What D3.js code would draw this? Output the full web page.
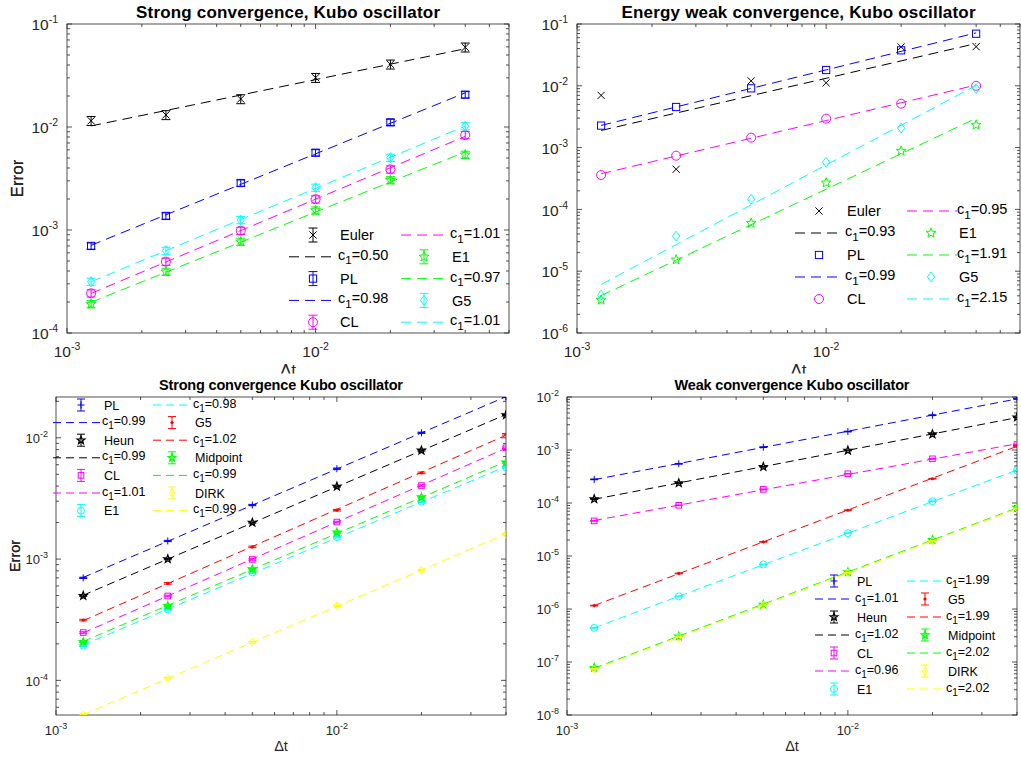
<!DOCTYPE html>
<html>
<head>
<meta charset="utf-8">
<script src="https://cdn.jsdelivr.net/npm/d3@7"></script>
<style>
    body { margin: 0; background: #fff; }
    svg { font-family: "Liberation Sans", Arial, Helvetica, sans-serif; }
</style>
</head>
<body>
<div id="chart"></div>
<script>

// step sizes (x values, same for every panel)
var dt = [0.00125, 0.0025, 0.005, 0.01, 0.02, 0.04];

// top left: strong convergence
var strongNames  = ["Euler", "PL", "CL", "E1", "G5"];
var strongEuler  = [0.0115, 0.0131, 0.0187, 0.0301, 0.0406, 0.0594];
var strongPL     = [7.0e-4, 1.37e-3, 2.86e-3, 5.63e-3, 0.0111, 0.0206];
var strongCL     = [2.43e-4, 4.93e-4, 9.84e-4, 1.99e-3, 3.88e-3, 8.35e-3];
var strongE1     = [1.91e-4, 3.94e-4, 7.71e-4, 1.55e-3, 3.05e-3, 5.38e-3];
var strongG5     = [3.15e-4, 6.3e-4, 1.25e-3, 2.58e-3, 5.04e-3, 0.0102];
var strongSlopes = ["0.50", "0.98", "1.01", "0.97", "1.01"];
var strongErr    = [0.10, 0.07, 0.08, 0.08, 0.08];

// top right: energy weak convergence
var energyNames  = ["Euler", "PL", "CL", "E1", "G5"];
var energyEuler  = [7.0e-3, 4.46e-4, 0.012, 0.0112, 0.0425, 0.043];
var energyPL     = [2.27e-3, 4.54e-3, 9.1e-3, 0.018, 0.0375, 0.0697];
var energyCL     = [3.6e-4, 7.4e-4, 1.45e-3, 2.94e-3, 5.14e-3, 0.01];
var energyE1     = [3.42e-6, 1.53e-5, 6.0e-5, 2.7e-4, 8.8e-4, 2.32e-3];
var energyG5     = [4.1e-6, 3.7e-5, 1.46e-4, 5.8e-4, 2.07e-3, 8.97e-3];
var energySlopes = ["0.93", "0.99", "0.95", "1.91", "2.15"];

// bottom left: strong convergence, second set of schemes
var strong2Names  = ["PL", "Heun", "CL", "E1", "G5", "Midpoint", "DIRK"];
var strong2PL     = [7.0e-4, 1.41e-3, 2.79e-3, 5.56e-3, 0.011, 0.0217];
var strong2Heun   = [4.99e-4, 1.0e-3, 2.0e-3, 3.97e-3, 7.87e-3, 0.0154];
var strong2CL     = [2.48e-4, 4.96e-4, 9.93e-4, 2.02e-3, 4.04e-3, 8.28e-3];
var strong2E1     = [1.93e-4, 3.85e-4, 7.76e-4, 1.52e-3, 2.97e-3, 5.7e-3];
var strong2G5     = [3.14e-4, 6.3e-4, 1.26e-3, 2.53e-3, 5.14e-3, 0.0107];
var strong2Mid    = [2.08e-4, 4.12e-4, 8.26e-4, 1.66e-3, 3.24e-3, 6.27e-3];
var strong2DIRK   = [5.18e-5, 1.04e-4, 2.06e-4, 4.12e-4, 8.1e-4, 1.61e-3];
var strong2Slopes = ["0.99", "0.99", "1.01", "0.98", "1.02", "0.99", "0.99"];
var strong2Err    = [0.012, 0.012, 0.015, 0.015, 0.015, 0.015, 0.015];

// bottom right: weak convergence
var weakNames  = ["PL", "Heun", "CL", "E1", "G5", "Midpoint", "DIRK"];
var weakPL     = [2.79e-4, 5.5e-4, 1.13e-3, 2.23e-3, 4.53e-3, 9.3e-3];
var weakHeun   = [1.19e-4, 2.38e-4, 4.83e-4, 9.8e-4, 1.99e-3, 4.15e-3];
var weakCL     = [4.59e-5, 9.05e-5, 1.81e-4, 3.56e-4, 6.82e-4, 1.27e-3];
var weakE1     = [4.4e-7, 1.73e-6, 6.92e-6, 2.7e-5, 1.08e-4, 4.12e-4];
var weakG5     = [1.16e-6, 4.69e-6, 1.85e-5, 7.3e-5, 2.87e-4, 1.2e-3];
var weakMid    = [7.8e-8, 3.06e-7, 1.21e-6, 4.97e-6, 2.02e-5, 8.17e-5];
var weakDIRK   = [7.4e-8, 2.95e-7, 1.17e-6, 4.8e-6, 1.93e-5, 7.9e-5];
var weakSlopes = ["1.01", "1.02", "0.96", "1.99", "1.99", "2.02", "2.02"];
var weakErr    = [0.015, 0.015, 0.015, 0.015, 0.015, 0.015, 0.015];


// matlab colours / markers
var topStyle = {
    "Euler": {color: "#000000", marker: "x"},
    "PL":    {color: "#0000ff", marker: "s"},
    "CL":    {color: "#ff00ff", marker: "o"},
    "E1":    {color: "#00ff00", marker: "p"},
    "G5":    {color: "#00ffff", marker: "d"}
};
var bottomStyle = {
    "PL":       {color: "#0000ff", marker: "+"},
    "Heun":     {color: "#000000", marker: "p"},
    "CL":       {color: "#ff00ff", marker: "s"},
    "E1":       {color: "#00ffff", marker: "o"},
    "G5":       {color: "#ff0000", marker: "."},
    "Midpoint": {color: "#00ff00", marker: "p"},
    "DIRK":     {color: "#ffff00", marker: "d"}
};


var svg = d3.select("#chart").append("svg")
    .attr("width", 1021)
    .attr("height", 757);

// top row x labels get cut by the lower axes
svg.append("defs").append("clipPath")
    .attr("id", "topclip")
    .append("rect")
    .attr("x", 0).attr("y", 0)
    .attr("width", 1021).attr("height", 373.5);


ConvPlot = function(_cfg, _series) {
    this.cfg = _cfg;
    this.series = _series;
    this.initVis();
};

ConvPlot.prototype.initVis = function() {
    var vis = this;
    var c = vis.cfg;

    vis.x = d3.scaleLog().domain(c.xDomain).range([c.left, c.right]);
    vis.y = d3.scaleLog().domain(c.yDomain).range([c.bottom, c.top]);

    vis.g = svg.append("g");

    vis.g.append("clipPath")
        .attr("id", "clip" + c.id)
        .append("rect")
        .attr("x", c.left).attr("y", c.top)
        .attr("width", c.right - c.left)
        .attr("height", c.bottom - c.top);

    vis.drawAxes();
    vis.updateVis();
    vis.drawLegend();
};

ConvPlot.prototype.logTicks = function(domain) {
    var majors = [], minors = [];
    var lo = Math.floor(Math.log10(domain[0]) - 1e-9),
        hi = Math.ceil(Math.log10(domain[1]) + 1e-9);
    for (var e = lo; e <= hi; e++) {
        for (var k = 1; k < 10; k++) {
            var v = +(k + "e" + e);
            if (v < domain[0] * (1 - 1e-9) || v > domain[1] * (1 + 1e-9)) continue;
            if (k == 1) majors.push(e);
            else minors.push(v);
        }
    }
    return {majors: majors, minors: minors};
};

ConvPlot.prototype.drawAxes = function() {
    var vis = this;
    var c = vis.cfg;
    var axisColor = "#262626";

    var ax = vis.g.append("g")
        .attr("stroke", axisColor)
        .attr("stroke-width", 0.8)
        .attr("fill", "none");

    var xt = vis.logTicks(c.xDomain),
        yt = vis.logTicks(c.yDomain);

    var d = "";
    xt.majors.forEach(function(e) {
        var px = vis.x(+("1e" + e));
        d += "M" + px + "," + c.bottom + "v" + (-c.tickLen) + "M" + px + "," + c.top + "v" + c.tickLen;
    });
    xt.minors.forEach(function(v) {
        var px = vis.x(v);
        d += "M" + px + "," + c.bottom + "v" + (-c.minorLen) + "M" + px + "," + c.top + "v" + c.minorLen;
    });
    yt.majors.forEach(function(e) {
        var py = vis.y(+("1e" + e));
        d += "M" + c.left + "," + py + "h" + c.tickLen + "M" + c.right + "," + py + "h" + (-c.tickLen);
    });
    yt.minors.forEach(function(v) {
        var py = vis.y(v);
        d += "M" + c.left + "," + py + "h" + c.minorLen + "M" + c.right + "," + py + "h" + (-c.minorLen);
    });
    ax.append("path").attr("d", d);

    ax.append("rect")
        .attr("x", c.left).attr("y", c.top)
        .attr("width", c.right - c.left)
        .attr("height", c.bottom - c.top);

    // tick labels 10^n
    xt.majors.forEach(function(e) {
        var t = vis.g.append("text")
            .attr("x", vis.x(+("1e" + e)))
            .attr("y", c.bottom + c.xLabelGap)
            .attr("text-anchor", "middle")
            .attr("fill", axisColor)
            .style("font-size", c.tickFont + "px");
        t.append("tspan").text("10");
        t.append("tspan").attr("dy", -c.tickFont * 0.45).style("font-size", c.expFont + "px").text(e);
    });
    yt.majors.forEach(function(e) {
        var t = vis.g.append("text")
            .attr("x", c.left - c.yLabelGap)
            .attr("y", vis.y(+("1e" + e)) + c.tickFont * 0.4)
            .attr("text-anchor", "end")
            .attr("fill", axisColor)
            .style("font-size", c.tickFont + "px");
        t.append("tspan").text("10");
        t.append("tspan").attr("dy", -c.tickFont * 0.45).style("font-size", c.expFont + "px").text(e);
    });

    // axis titles
    var midX = (c.left + c.right) / 2,
        midY = (c.top + c.bottom) / 2;

    vis.g.append("text")
        .attr("transform", "translate(" + c.yTitleX + "," + midY + ") rotate(-90)")
        .attr("text-anchor", "middle")
        .attr("fill", axisColor)
        .style("font-size", c.labelFont + "px")
        .text("Error");

    var xl = vis.g.append("text")
        .attr("x", midX)
        .attr("y", c.xTitleY)
        .attr("text-anchor", "middle")
        .attr("fill", axisColor)
        .style("font-size", c.labelFont + "px")
        .text("\u0394t");
    if (c.clipXTitle) xl.attr("clip-path", "url(#topclip)");

    vis.g.append("text")
        .attr("x", midX)
        .attr("y", c.titleY)
        .attr("text-anchor", "middle")
        .attr("textLength", c.titleWidth)
        .attr("lengthAdjust", "spacing")
        .style("font-size", c.titleFont + "px")
        .style("font-weight", "bold")
        .text(c.title);
};

ConvPlot.prototype.marker = function(g, type, cx, cy, s, color) {
    var h = s / 2, p;
    if (type == "x") {
        p = g.append("path").attr("d", "M" + (cx - h * 0.8) + "," + (cy - h * 0.8) + "L" + (cx + h * 0.8) + "," + (cy + h * 0.8) +
            "M" + (cx - h * 0.8) + "," + (cy + h * 0.8) + "L" + (cx + h * 0.8) + "," + (cy - h * 0.8));
    } else if (type == "+") {
        p = g.append("path").attr("d", "M" + (cx - h) + "," + cy + "H" + (cx + h) + "M" + cx + "," + (cy - h) + "V" + (cy + h));
    } else if (type == "s") {
        p = g.append("rect").attr("x", cx - h * 0.8).attr("y", cy - h * 0.8).attr("width", h * 1.6).attr("height", h * 1.6);
    } else if (type == "o") {
        p = g.append("circle").attr("cx", cx).attr("cy", cy).attr("r", h);
    } else if (type == "d") {
        p = g.append("path").attr("d", "M" + cx + "," + (cy - h * 1.1) + "L" + (cx + h * 0.8) + "," + cy +
            "L" + cx + "," + (cy + h * 1.1) + "L" + (cx - h * 0.8) + "," + cy + "Z");
    } else if (type == "p") {
        var pts = [];
        for (var i = 0; i < 10; i++) {
            var r = (i % 2 == 0) ? h * 1.15 : h * 1.15 * 0.42;
            var a = -Math.PI / 2 + i * Math.PI / 5;
            pts.push([cx + r * Math.cos(a), cy + r * Math.sin(a)]);
        }
        p = g.append("path").attr("d", "M" + pts.join("L") + "Z");
    } else if (type == ".") {
        return g.append("circle").attr("cx", cx).attr("cy", cy).attr("r", 1.6).attr("fill", color);
    }
    p.attr("fill", "none").attr("stroke", color).attr("stroke-width", type == "p" && s < 8 ? 1.3 : 1);
};

ConvPlot.prototype.updateVis = function() {
    var vis = this;
    var c = vis.cfg;

    var plotArea = vis.g.append("g").attr("clip-path", "url(#clip" + c.id + ")");

    vis.series.forEach(function(s) {
        var sg = plotArea.append("g");

        // least squares fit in log-log space
        var lx = dt.map(function(d) { return Math.log10(d); }),
            ly = s.values.map(function(d) { return Math.log10(d); });
        var mx = d3.mean(lx), my = d3.mean(ly);
        var slope = d3.sum(lx, function(d, i) { return (d - mx) * (ly[i] - my); }) /
                    d3.sum(lx, function(d) { return (d - mx) * (d - mx); });
        var fit = dt.map(function(d, i) { return Math.pow(10, my + slope * (lx[i] - mx)); });

        sg.append("path")
            .datum(dt)
            .attr("d", d3.line()
                .x(function(d) { return vis.x(d); })
                .y(function(d, i) { return vis.y(fit[i]); }))
            .attr("fill", "none")
            .attr("stroke", s.color)
            .attr("stroke-width", 1)
            .attr("stroke-dasharray", c.dash);

        dt.forEach(function(d, i) {
            var px = vis.x(d), py = vis.y(s.values[i]);
            if (s.err != null) {
                var yl = vis.y(s.values[i] * (1 - s.err)),
                    yh = vis.y(s.values[i] * (1 + s.err));
                sg.append("path")
                    .attr("d", "M" + (px - c.capW) + "," + yl + "H" + (px + c.capW) +
                        "M" + px + "," + yl + "V" + yh +
                        "M" + (px - c.capW) + "," + yh + "H" + (px + c.capW))
                    .attr("fill", "none")
                    .attr("stroke", s.color)
                    .attr("stroke-width", 1);
            }
            vis.marker(sg, s.marker, px, py, c.markerSize, s.color);
        });
    });
};

ConvPlot.prototype.drawLegend = function() {
    var vis = this;
    var c = vis.cfg, L = c.legend;

    var entries = [];
    vis.series.forEach(function(s) {
        entries.push({kind: "marker", s: s});
        entries.push({kind: "line", s: s});
    });
    var nRows = Math.ceil(entries.length / 2);

    var lg = vis.g.append("g");

    entries.forEach(function(en, i) {
        var col = Math.floor(i / nRows), row = i % nRows;
        var cl = L.cols[col];
        var cy = L.y0 + row * L.rowH;

        if (en.kind == "marker") {
            if (en.s.err != null) {
                lg.append("path")
                    .attr("d", "M" + (cl.marker - c.capW) + "," + (cy - L.barH) + "H" + (cl.marker + c.capW) +
                        "M" + cl.marker + "," + (cy - L.barH) + "V" + (cy + L.barH) +
                        "M" + (cl.marker - c.capW) + "," + (cy + L.barH) + "H" + (cl.marker + c.capW))
                    .attr("fill", "none")
                    .attr("stroke", en.s.color)
                    .attr("stroke-width", 1);
            }
            vis.marker(lg, en.s.marker, cl.marker, cy, c.markerSize, en.s.color);
            lg.append("text")
                .attr("x", cl.text)
                .attr("y", cy + c.legendFont * 0.36)
                .style("font-size", c.legendFont + "px")
                .text(en.s.name);
        } else {
            lg.append("line")
                .attr("x1", cl.line[0]).attr("x2", cl.line[1])
                .attr("y1", cy).attr("y2", cy)
                .attr("stroke", en.s.color)
                .attr("stroke-width", 1)
                .attr("stroke-dasharray", c.dash);
            var t = lg.append("text")
                .attr("x", cl.text - 2)
                .attr("y", cy + c.legendFont * 0.2)
                .style("font-size", c.legendFont + "px");
            t.append("tspan").text("c");
            t.append("tspan").attr("dy", c.legendFont * 0.32).style("font-size", (c.legendFont * 0.8) + "px").text("1");
            t.append("tspan").attr("dy", -c.legendFont * 0.32).text("=" + en.s.slope);
        }
    });
};


function buildSeries(names, values, slopes, errs, style) {
    return names.map(function(n, i) {
        return {
            name: n,
            values: values[i],
            slope: slopes[i],
            err: errs ? errs[i] : null,
            color: style[n].color,
            marker: style[n].marker
        };
    });
}

var topCommon = {
    top: 24, bottom: 333,
    xDomain: [0.001, 0.06],
    tickLen: 5, minorLen: 3,
    tickFont: 15.5, expFont: 10.5,
    xLabelGap: 24, yLabelGap: 9,
    labelFont: 17, titleFont: 17, titleY: 18,
    xTitleY: 376, yTitleX: 23, clipXTitle: true,
    legendFont: 14.5, markerSize: 9, capW: 4.5, dash: "10,6"
};
var bottomCommon = {
    top: 397, bottom: 715,
    xDomain: [0.001, 0.04],
    tickLen: 5, minorLen: 3,
    tickFont: 13, expFont: 9,
    xLabelGap: 20, yLabelGap: 8,
    labelFont: 14.5, titleFont: 14.5, titleY: 390,
    xTitleY: 751, yTitleX: 20, clipXTitle: false,
    legendFont: 12.5, markerSize: 7, capW: 4, dash: "8,5"
};

new ConvPlot(Object.assign({}, topCommon, {
    id: 1, left: 67, right: 509,
    yDomain: [1e-4, 1e-1],
    title: "Strong convergence, Kubo oscillator", titleWidth: 304,
    legend: {y0: 235, rowH: 21.8, barH: 7,
        cols: [{line: [289, 337], marker: 313, text: 340}, {line: [401, 448], marker: 424, text: 452}]}
}), buildSeries(strongNames, [strongEuler, strongPL, strongCL, strongE1, strongG5], strongSlopes, strongErr, topStyle));

new ConvPlot(Object.assign({}, topCommon, {
    id: 2, left: 577, right: 1020,
    yDomain: [1e-6, 1e-1],
    title: "Energy weak convergence, Kubo oscillator", titleWidth: 354,
    legend: {y0: 211, rowH: 22, barH: 7,
        cols: [{line: [795, 843], marker: 819, text: 847}, {line: [907, 957], marker: 931, text: 959}]}
}), buildSeries(energyNames, [energyEuler, energyPL, energyCL, energyE1, energyG5], energySlopes, null, topStyle));

var strong2Values = [strong2PL, strong2Heun, strong2CL, strong2E1, strong2G5, strong2Mid, strong2DIRK];
new ConvPlot(Object.assign({}, bottomCommon, {
    id: 3, left: 56, right: 506,
    yDomain: [d3.min(strong2Values, function(v) { return d3.min(v); }), d3.max(strong2Values, function(v) { return d3.max(v); })],
    title: "Strong convergence Kubo oscillator", titleWidth: 244,
    legend: {y0: 405, rowH: 17.6, barH: 6,
        cols: [{line: [53, 100], marker: 81, text: 104}, {line: [153, 192], marker: 172, text: 195}]}
}), buildSeries(strong2Names, strong2Values, strong2Slopes, strong2Err, bottomStyle));

new ConvPlot(Object.assign({}, bottomCommon, {
    id: 4, left: 567, right: 1017,
    yDomain: [1e-8, 1e-2],
    title: "Weak convergence Kubo oscillator", titleWidth: 235,
    legend: {y0: 581, rowH: 18, barH: 6,
        cols: [{line: [815, 853], marker: 834, text: 857}, {line: [907, 945], marker: 925, text: 948}]}
}), buildSeries(weakNames, [weakPL, weakHeun, weakCL, weakE1, weakG5, weakMid, weakDIRK], weakSlopes, weakErr, bottomStyle));

</script>
</body>
</html>
